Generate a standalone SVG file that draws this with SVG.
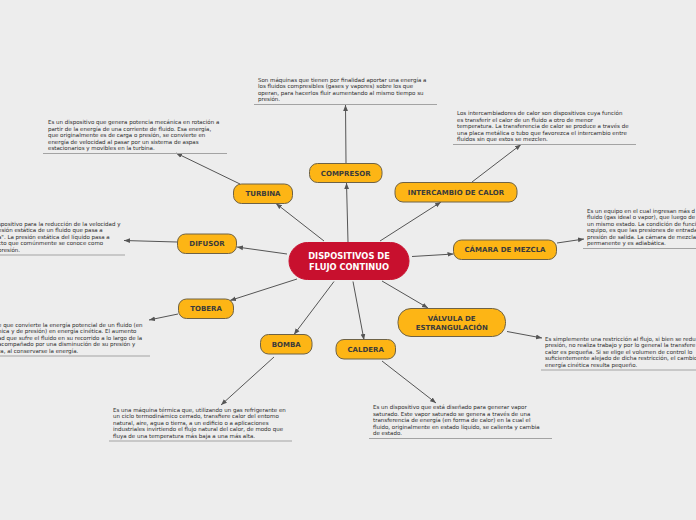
<svg xmlns="http://www.w3.org/2000/svg" width="696" height="520" viewBox="0 0 696 520">
<defs>
<marker id="ah" viewBox="0 0 10 10" refX="10" refY="5" markerWidth="6" markerHeight="6" orient="auto" markerUnits="userSpaceOnUse"><path d="M0,1 L10,5 L0,9 z" fill="#555"/></marker>
<style>
.node rect{fill:#fdb515;stroke:#6e6246;stroke-width:1}
.node text{font-family:"DejaVu Sans",sans-serif;font-weight:bold;font-size:7px;fill:#3b3b3b;text-anchor:middle}
.center rect{fill:#c8102e;stroke:#c8102e}
.center text{font-family:"DejaVu Sans",sans-serif;font-weight:bold;font-size:8.3px;fill:#fff;text-anchor:middle}
.desc text{font-family:"DejaVu Sans",sans-serif;font-size:5.5px;fill:#2a2a2a}
.desc line{stroke:#a3a3a3;stroke-width:1}
.conn line{stroke:#555;stroke-width:1;marker-end:url(#ah)}
</style>
</defs>
<rect width="696" height="520" fill="#ededed"/>
<g id="connectors" class="conn">
<line x1="348" y1="242" x2="346.5" y2="183"/>
<line x1="324" y1="241" x2="276" y2="203.5"/>
<line x1="287" y1="254" x2="237" y2="247"/>
<line x1="297" y1="279" x2="230" y2="300.5"/>
<line x1="334" y1="281.5" x2="294" y2="334.5"/>
<line x1="353" y1="281.5" x2="364" y2="340"/>
<line x1="380" y1="241" x2="441" y2="202"/>
<line x1="412" y1="256.5" x2="453.5" y2="254"/>
<line x1="382" y1="281" x2="428" y2="308"/>
<line x1="346" y1="163" x2="345.5" y2="105"/>
<line x1="240" y1="184" x2="176" y2="153"/>
<line x1="472" y1="182" x2="521" y2="144.5"/>
<line x1="177" y1="242" x2="124" y2="240.5"/>
<line x1="557" y1="243" x2="584" y2="239"/>
<line x1="178" y1="314" x2="149" y2="320"/>
<line x1="507" y1="331.5" x2="542" y2="338"/>
<line x1="274" y1="357" x2="221" y2="405"/>
<line x1="382" y1="361" x2="436" y2="403"/>
</g>
<g id="center" class="center">
<rect x="289" y="242.5" width="120" height="37" rx="18.5"/>
<text x="349" y="259">DISPOSITIVOS DE</text>
<text x="349" y="270">FLUJO CONTINUO</text>
</g>
<g id="compresor" class="node"><rect x="309.5" y="163.5" width="72.5" height="19" rx="8"/><text x="345.7" y="175.5">COMPRESOR</text></g>
<g id="turbina" class="node"><rect x="233.5" y="184" width="59" height="19.5" rx="8"/><text x="263" y="196.3">TURBINA</text></g>
<g id="difusor" class="node"><rect x="177.5" y="234" width="59" height="19.5" rx="8"/><text x="207" y="246.3">DIFUSOR</text></g>
<g id="tobera" class="node"><rect x="178.5" y="299" width="55" height="19.5" rx="8"/><text x="206" y="311.3">TOBERA</text></g>
<g id="bomba" class="node"><rect x="260.5" y="334.5" width="51.5" height="19.5" rx="8"/><text x="286.2" y="346.8">BOMBA</text></g>
<g id="caldera" class="node"><rect x="336" y="339.5" width="59.5" height="19.5" rx="8"/><text x="365.7" y="351.8">CALDERA</text></g>
<g id="intercambio" class="node"><rect x="395" y="182.5" width="122" height="19.5" rx="8"/><text x="456" y="194.8">INTERCAMBIO DE CALOR</text></g>
<g id="camara" class="node"><rect x="453.5" y="240" width="103" height="19.5" rx="8"/><text x="505" y="252.3">CÁMARA DE MEZCLA</text></g>
<g id="valvula" class="node"><rect x="398" y="308.5" width="107.5" height="28" rx="13"/><text x="451.7" y="321">VÁLVULA DE</text><text x="451.7" y="330">ESTRANGULACIÓN</text></g>
<g id="desc-compresor" class="desc">
<text x="258" y="81.5">Son máquinas que tienen por finalidad aportar una energía a</text>
<text x="258" y="88">los fluidos compresibles (gases y vapores) sobre los que</text>
<text x="258" y="94.5">operan, para hacerlos fluir aumentando al mismo tiempo su</text>
<text x="258" y="101">presión.</text>
<line x1="254" y1="104.5" x2="437" y2="104.5"/>
</g>
<g id="desc-turbina" class="desc">
<text x="48" y="124">Es un dispositivo que genera potencia mecánica en rotación a</text>
<text x="48" y="130.5">partir de la energía de una corriente de fluido. Esa energía,</text>
<text x="48" y="137">que originalmente es de carga o presión, se convierte en</text>
<text x="48" y="143.5">energía de velocidad al pasar por un sistema de aspas</text>
<text x="48" y="150">estacionarios y movibles en la turbina.</text>
<line x1="43" y1="153.5" x2="227" y2="153.5"/>
</g>
<g id="desc-intercambio" class="desc">
<text x="457" y="115">Los intercambiadores de calor son  dispositivos cuya función</text>
<text x="457" y="121.5">es transferir el calor de un fluido a otro de menor</text>
<text x="457" y="128">temperatura. La transferencia de calor se produce a través de</text>
<text x="457" y="134.5">una placa metálica o tubo que favorezca el intercambio entre</text>
<text x="457" y="141">fluidos sin que estos se mezclen.</text>
<line x1="453" y1="144.5" x2="636" y2="144.5"/>
</g>
<g id="desc-difusor" class="desc">
<text x="-2" y="225.5">spositivo para la reducción de la velocidad y</text>
<text x="-2" y="232">esión estática de un fluido que pasa a</text>
<text x="-2" y="238.5">a". La presión estática del líquido pasa a</text>
<text x="-2" y="245">cto que comúnmente se conoce como</text>
<text x="-2" y="251.5">presión.</text>
<line x1="0" y1="255" x2="125" y2="255"/>
</g>
<g id="desc-camara" class="desc">
<text x="587" y="212.5">Es un equipo en el cual ingresan más d</text>
<text x="587" y="219">fluido (gas ideal o vapor), que luego de</text>
<text x="587" y="225.5">un mismo estado. La condición de funci</text>
<text x="587" y="232">equipo, es que las presiones de entrada</text>
<text x="587" y="238.5">presión de salida. La cámara de mezcla</text>
<text x="587" y="245">permanente y es adiabática.</text>
<line x1="583" y1="248.5" x2="696" y2="248.5"/>
</g>
<g id="desc-tobera" class="desc">
<text x="-2" y="326.5">e que convierte la energía potencial de un fluido (en</text>
<text x="-2" y="333">nica y de presión) en energía cinética. El aumento</text>
<text x="-2" y="339.5">ad que sufre el fluido en su recorrido a lo largo de la</text>
<text x="-2" y="346">acompañado por una disminución de su presión y</text>
<text x="-2" y="352.5">ra, al conservarse la energía.</text>
<line x1="0" y1="356" x2="150" y2="356"/>
</g>
<g id="desc-valvula" class="desc">
<text x="545" y="340.5">Es simplemente una restricción al flujo, si bien se redu</text>
<text x="545" y="347">presión, no realiza trabajo y por lo general la transfere</text>
<text x="545" y="353.5">calor es pequeña. Si se elige el volumen de control lo</text>
<text x="545" y="360">suficientemente alejado de dicha restricción, el cambio</text>
<text x="545" y="366.5">energía cinética resulta pequeño.</text>
<line x1="541" y1="370" x2="696" y2="370"/>
</g>
<g id="desc-bomba" class="desc">
<text x="113" y="411.5">Es una máquina térmica que, utilizando un gas refrigerante en</text>
<text x="113" y="418">un ciclo termodinámico cerrado, transfiere calor del entorno</text>
<text x="113" y="424.5">natural, aire, agua o tierra, a un edificio o a aplicaciones</text>
<text x="113" y="431">industriales invirtiendo el flujo natural del calor, de modo que</text>
<text x="113" y="437.5">fluya de una temperatura más baja a una más alta.</text>
<line x1="109" y1="441" x2="292" y2="441"/>
</g>
<g id="desc-caldera" class="desc">
<text x="373" y="409">Es un dispositivo que está diseñado para generar vapor</text>
<text x="373" y="415.5">saturado. Este vapor saturado se genera a través de una</text>
<text x="373" y="422">transferencia de energía (en forma de calor) en la cual el</text>
<text x="373" y="428.5">fluido, originalmente en estado líquido, se calienta y cambia</text>
<text x="373" y="435">de estado.</text>
<line x1="369" y1="438.5" x2="552" y2="438.5"/>
</g>
</svg>
